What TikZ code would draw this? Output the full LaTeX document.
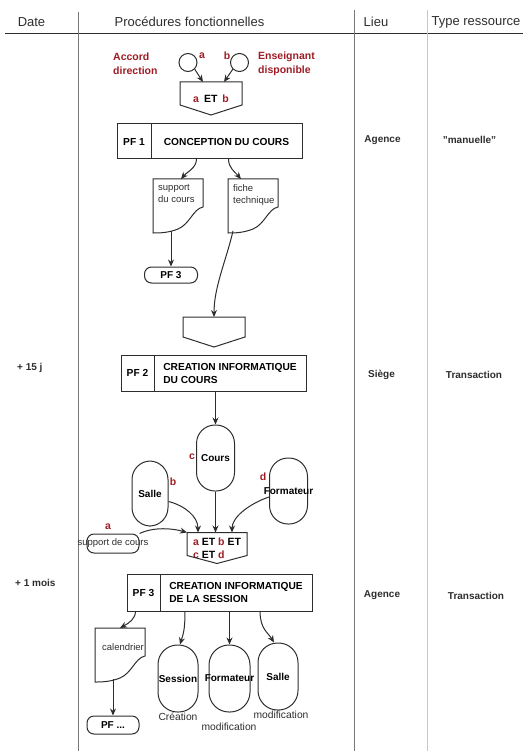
\documentclass[tikz,border=0pt]{standalone}
\usepackage{fontspec}
\setmainfont{Liberation Sans}
\usetikzlibrary{arrows.meta}

\definecolor{ink}{RGB}{45,45,45}
\definecolor{rulegray}{RGB}{120,120,120}
\definecolor{lightgray}{RGB}{200,200,200}
\definecolor{darkred}{RGB}{158,28,36}

\newcommand{\docoutline}[1]{\draw[shapeline,shift={(#1.north west)}] (0,0) -- (50,0) -- (50,28)
  .. controls (40,30) and (37,45) .. (25,50) .. controls (15,54) and (6,54) .. (0,54) -- cycle;}
\newcommand{\gateoutline}[2]{\draw[shapeline] (#1.north west) -- (#1.north east) -- ([yshift=#2]#1.south east)
  -- (#1.south) -- ([yshift=#2]#1.south west) -- cycle;}
\newcommand{\rd}[1]{\textcolor{darkred}{#1}}

\begin{document}
\begin{tikzpicture}[x=1pt,y=-1pt,
  shapeline/.style={draw=ink,line width=1pt},
  arr/.style={shapeline,-{Stealth[length=7pt,width=6pt]}},
  colhead/.style={font=\fontsize{13}{15}\selectfont,text=ink},
  cellinfo/.style={font=\fontsize{10}{12}\selectfont\bfseries,text=ink},
  redtag/.style={font=\fontsize{10.5}{14}\selectfont\bfseries,text=darkred,align=left,inner sep=0pt},
  smalltxt/.style={font=\fontsize{9.5}{12}\selectfont,text=ink,align=left,inner sep=0pt},
  pfnum/.style={shapeline,outer sep=0pt,minimum width=34pt,font=\fontsize{10.2}{13}\selectfont\bfseries},
  pftitle/.style={shapeline,outer sep=0pt,minimum width=152pt,align=left,anchor=west,font=\fontsize{10.2}{13}\selectfont\bfseries},
  pill/.style={shapeline,rounded corners=7pt,minimum width=52pt,minimum height=17pt,inner sep=0pt,font=\fontsize{10}{12}\selectfont\bfseries},
  stadium/.style={shapeline,rounded corners=18.5pt,minimum width=38pt,minimum height=66pt,inner sep=0pt,font=\fontsize{10}{12}\selectfont\bfseries},
  docbox/.style={minimum width=50pt,minimum height=54pt,inner sep=0pt,outer sep=0pt},
  gate/.style={minimum width=62pt,inner sep=0pt,outer sep=0pt,align=left,font=\fontsize{10.5}{13}\selectfont\bfseries}]
\useasboundingbox (0,0) rectangle (523,751);

\draw[ink,line width=0.9pt] (5,33) -- (523,33);
\draw[rulegray,line width=0.9pt] (78,12) -- (78,751);
\draw[rulegray,line width=0.9pt] (354,10) -- (354,751);
\draw[lightgray,line width=0.9pt] (427,10) -- (427,751);
\node[colhead] (hdate) at (31.5,22) {Date};
\node[colhead] (hproc) at (189.5,22) {Procédures fonctionnelles};
\node[colhead] (hlieu) at (376,22) {Lieu};
\node[colhead] (htype) at (476,22) {Type ressource};

\node[cellinfo,anchor=west,inner sep=0pt] (d15) at (17,368) {+ 15 j};
\node[cellinfo,anchor=west,inner sep=0pt] (d1m) at (15,583) {+ 1 mois};
\node[cellinfo] (lieu1) at (382.5,140) {Agence};
\node[cellinfo] (lieu2) at (381.5,375) {Siège};
\node[cellinfo] (lieu3) at (382,595) {Agence};
\node[cellinfo] (type1) at (469.5,140) {"manuelle"};
\node[cellinfo] (type2) at (474,375) {Transaction};
\node[cellinfo] (type3) at (476,596) {Transaction};

\node[shapeline,circle,minimum size=18pt,inner sep=0pt] (ca) at (188,62.5) {};
\node[shapeline,circle,minimum size=18pt,inner sep=0pt] (cb) at (239.5,62.5) {};
\node[redtag] (taga) at (202,56) {a};
\node[redtag] (tagb) at (227,56) {b};
\node[redtag,anchor=west] (accord) at (113,64) {Accord\\direction};
\node[redtag,anchor=west] (enseig) at (258,64) {Enseignant\\disponible};
\node[gate,minimum height=33pt] (ab) at (211,98.5) {\rd{a}\hspace{5pt}ET\hspace{5pt}\rd{b}};
\gateoutline{ab}{10pt}
\draw[arr] (ca.south east) -- ([xshift=-8pt]ab.north);
\draw[arr] (cb.south west) -- ([xshift=13pt]ab.north);

\node[pfnum,minimum height=35pt] (pf1n) at (134,141.5) {PF 1};
\node[pftitle,minimum width=151pt,minimum height=35pt] (pf1) at (pf1n.east) {CONCEPTION DU COURS};

\node[docbox] (support) at (178,206) {};
\docoutline{support}
\node[smalltxt,anchor=north west] (supporttxt) at ([shift={(5pt,-5pt)}]support.north west) {support\\du cours};
\node[docbox] (fiche) at (253,206) {};
\docoutline{fiche}
\node[smalltxt,anchor=north west] (fichetxt) at ([shift={(5pt,-5pt)}]fiche.north west) {fiche\\technique};
\draw[arr] ([xshift=-30pt]pf1.south) .. controls +(0,9) and +(6,-7) .. ([xshift=3pt]support.north);
\draw[arr] ([xshift=2pt]pf1.south) .. controls +(0,9) and +(-6,-7) .. ([xshift=-12pt]fiche.north);

\node[pill,minimum width=53pt,minimum height=16pt] (pfa) at (171,275) {PF 3};
\draw[arr] ([shift={(-7pt,2pt)}]support.south) -- (pfa.north);

\node[gate,minimum height=30pt] (blank) at (214,332) {};
\gateoutline{blank}{10pt}
\draw[arr] ([shift={(-20pt,2pt)}]fiche.south) .. controls +(-7,30) and +(0,-30) .. (blank.north);

\node[pfnum,minimum width=33pt,minimum height=36pt] (pf2n) at (137.5,373) {PF 2};
\node[pftitle,minimum height=36pt] (pf2) at (pf2n.east) {CREATION INFORMATIQUE\\DU COURS};

\node[stadium] (cours) at (215.5,458) {Cours};
\node[stadium,minimum width=36pt,minimum height=65pt] (salle) at (150,493.5) {Salle};
\node[stadium] (form) at (288.5,491) {\makebox[0pt]{Formateur}};
\node[redtag] (tagc) at (192,457) {c};
\node[redtag] (tagb2) at (173,482) {b};
\node[redtag] (tagd) at (263,477) {d};
\draw[arr] (cours.north |- pf2.south) -- (cours.north);

\node[pill,minimum height=19pt] (sdc) at (113,543.5) {};
\node[smalltxt] (sdctxt) at (sdc) {support de cours};
\node[redtag] (taga2) at (108,527) {a};

\node[gate,minimum width=60pt,minimum height=31pt] (and4) at (217,548) {\rd{a} ET \rd{b} ET\\\rd{c} ET \rd{d}};
\gateoutline{and4}{8pt}
\draw[arr] ([yshift=-8pt]salle.east) .. controls +(16,4) and +(0,-16) .. ([xshift=-19pt]and4.north);
\draw[arr] (cours.south) -- (cours.south |- and4.north);
\draw[arr] ([yshift=-6pt]form.west) .. controls +(-18,6) and +(0,-16) .. ([xshift=15pt]and4.north);
\draw[arr] (sdc.north east) .. controls +(15,-7) and +(-14,-4) .. (and4.north west);

\node[pfnum,minimum width=33pt,minimum height=37pt] (pf3n) at (143.5,592.5) {PF 3};
\node[pftitle,minimum height=37pt] (pf3) at (pf3n.east) {CREATION INFORMATIQUE\\DE LA SESSION};

\node[docbox] (cal) at (120,655) {};
\docoutline{cal}
\node[smalltxt,anchor=west] (caltxt) at ([shift={(7pt,-19pt)}]cal.north west) {calendrier};
\node[pill,minimum height=18pt] (pfdots) at (113,725) {PF ...};

\node[stadium,minimum width=40pt,minimum height=67pt,rounded corners=19.5pt] (sess) at (178,678.5) {Session};
\node[stadium,minimum width=41pt,minimum height=67pt,rounded corners=20pt] (form2) at (229.5,678.5) {\makebox[0pt]{Formateur}};
\node[stadium,minimum width=40pt,minimum height=67pt,rounded corners=19.5pt] (salle2) at (278,676.5) {Salle};
\node[smalltxt,font=\fontsize{10.3}{12}\selectfont] (creat) at (178,717) {Création};
\node[smalltxt,font=\fontsize{10.3}{12}\selectfont] (modif1) at (229,727) {modification};
\node[smalltxt,font=\fontsize{10.3}{12}\selectfont] (modif2) at (281,715) {modification};

\draw[arr] ([xshift=-8pt]pf3n.south) .. controls +(0,8) and +(9,-5) .. (cal.north);
\draw[arr] ([xshift=-51pt]pf3.south) .. controls +(0,20) and +(3,-10) .. ([xshift=2pt]sess.north);
\draw[arr] (form2.north |- pf3.south) -- (form2.north);
\draw[arr] ([xshift=24pt]pf3.south) .. controls +(0,18) and +(-6,-10) .. ([xshift=-4pt]salle2.north);
\draw[arr] ([yshift=3pt]pfdots.north |- cal.south) -- (pfdots.north);
\end{tikzpicture}
\end{document}
